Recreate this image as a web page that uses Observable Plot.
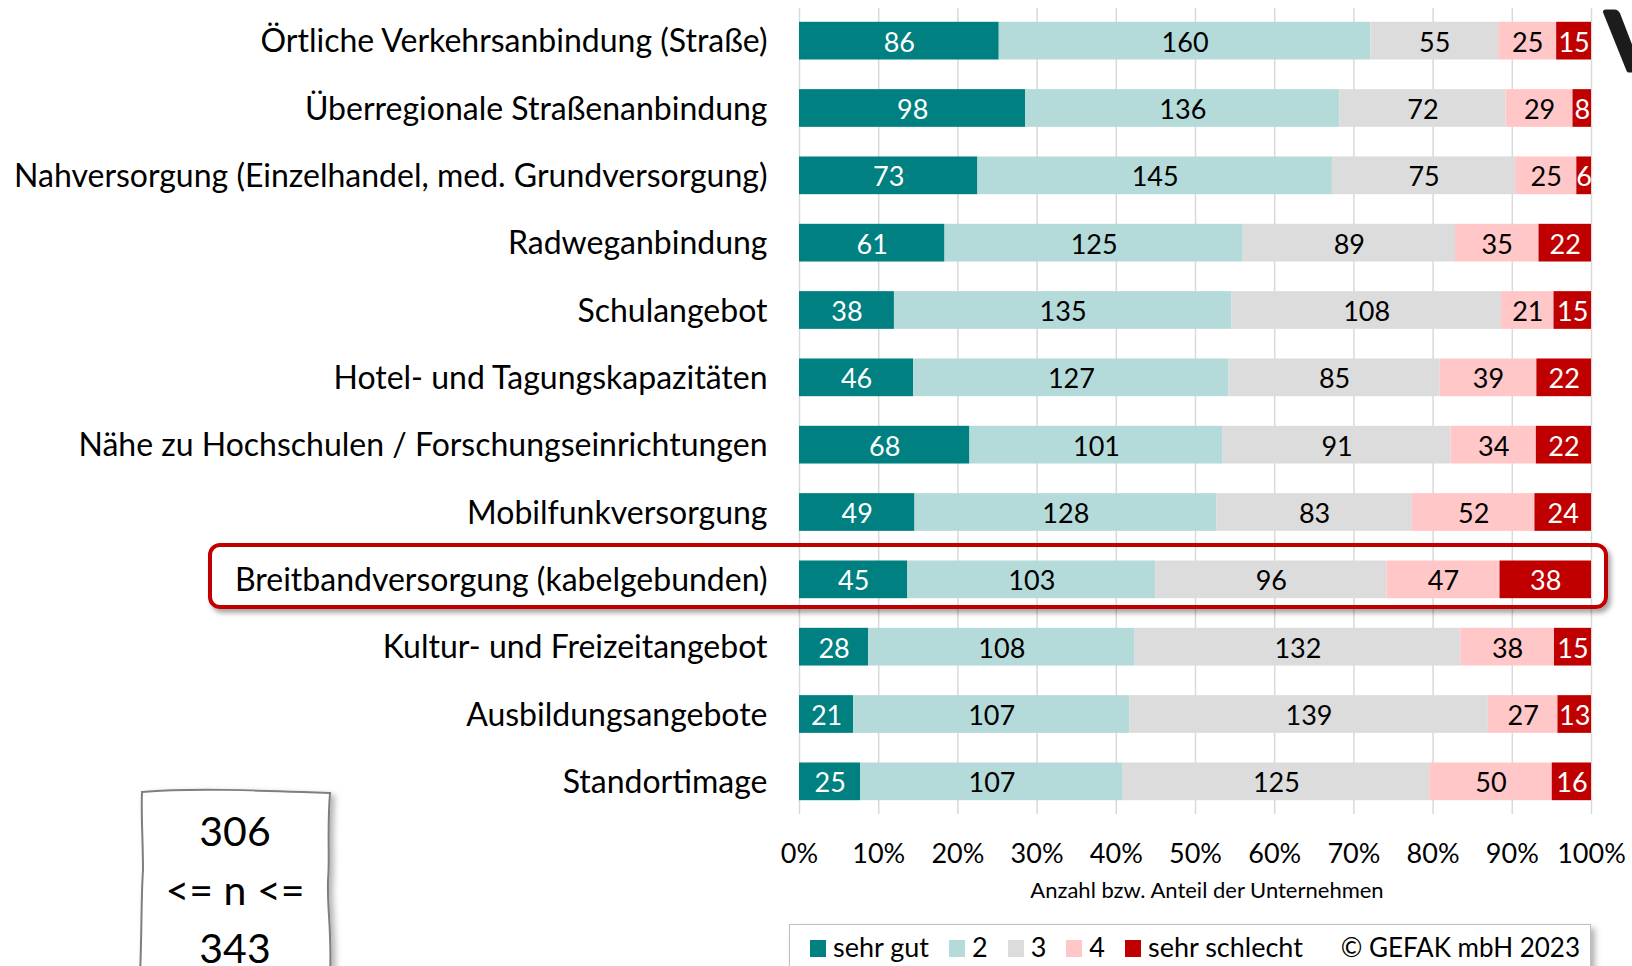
<!DOCTYPE html>
<html>
<head>
<meta charset="utf-8">
<script src="https://cdn.jsdelivr.net/npm/d3@7"></script>
<script src="https://cdn.jsdelivr.net/npm/@observablehq/plot@0.6"></script>
<style>
  html, body { margin: 0; padding: 0; background: #fff; overflow: hidden; }
  #wrap { position: relative; width: 1632px; height: 966px; overflow: hidden; font-family: Lato, "Open Sans", sans-serif; }
  #chart { position: absolute; left: 0; top: 0; }
  .abs { position: absolute; }
  #axisTitle { font-size: 22px; color: #000; white-space: nowrap; transform: translateX(-50%); }
  #legend { box-sizing: border-box; border: 1px solid #bfbfbf; background: #fff;
            box-shadow: 4px 4px 6px rgba(0,0,0,0.3); display: flex; align-items: baseline;
            font-size: 27px; line-height: 30px; padding: 7px 10px 0 20px; white-space: nowrap; }
  #legend .item { display: inline-flex; align-items: baseline; margin-right: 20px; }
  #legend .sw { display: inline-block; width: 16px; height: 17px; margin-right: 7px; }
  #legend .copy { margin-left: auto; font-size: 26px; }
  #hl { box-sizing: border-box; border: 4px solid #c00000; border-radius: 12px;
        box-shadow: 3px 4px 5px rgba(0,0,0,0.35); pointer-events: none; }
</style>
</head>
<body>
<div id="wrap">
  <div id="chart"></div>
</div>
<script>
const categories = [
  "Örtliche Verkehrsanbindung (Straße)",
  "Überregionale Straßenanbindung",
  "Nahversorgung (Einzelhandel, med. Grundversorgung)",
  "Radweganbindung",
  "Schulangebot",
  "Hotel- und Tagungskapazitäten",
  "Nähe zu Hochschulen / Forschungseinrichtungen",
  "Mobilfunkversorgung",
  "Breitbandversorgung (kabelgebunden)",
  "Kultur- und Freizeitangebot",
  "Ausbildungsangebote",
  "Standortimage"
];
const ratings = ["sehr gut", "2", "3", "4", "sehr schlecht"];
const ratingColors = ["#008080", "#b4dbd9", "#dcdcdc", "#ffc7c7", "#c00000"];
const darkRatings = ["sehr gut", "sehr schlecht"];

const sehrGut      = [86, 98, 73, 61, 38, 46, 68, 49, 45, 28, 21, 25];
const note2        = [160, 136, 145, 125, 135, 127, 101, 128, 103, 108, 107, 107];
const note3        = [55, 72, 75, 89, 108, 85, 91, 83, 96, 132, 139, 125];
const note4        = [25, 29, 25, 35, 21, 39, 34, 52, 47, 38, 27, 50];
const sehrSchlecht = [15, 8, 6, 22, 15, 22, 22, 24, 38, 15, 13, 16];

const xTicks = [0, 0.1, 0.2, 0.3, 0.4, 0.5, 0.6, 0.7, 0.8, 0.9, 1];
const highlighted = "Breitbandversorgung (kabelgebunden)";
const axisTitle = "Anzahl bzw. Anteil der Unternehmen";
const copyright = "© GEFAK mbH 2023";
const nBoxLines = ["306", "<= n <=", "343"];

const series = [sehrGut, note2, note3, note4, sehrSchlecht];
const data = [];
categories.forEach((cat, i) => {
  ratings.forEach((r, j) => {
    data.push({cat, rating: r, value: series[j][i]});
  });
});

const chart = Plot.plot({
  width: 1632,
  height: 870,
  marginLeft: 799,
  marginRight: 41,
  marginTop: 8,
  marginBottom: 56,
  style: {fontFamily: "Lato, 'Open Sans', sans-serif", color: "#000", background: "transparent"},
  x: {domain: [0, 1]},
  y: {domain: categories, paddingInner: 0.44, paddingOuter: 0.205, round: false},
  color: {domain: ratings, range: ratingColors},
  marks: [
    Plot.gridX(xTicks, {stroke: "#d9d9d9", strokeOpacity: 1, strokeWidth: 1.5}),
    Plot.barX(data, Plot.stackX({x: "value", y: "cat", fill: "rating", offset: "normalize", order: null})),
    Plot.text(data, Plot.stackX({
      x: "value", y: "cat", z: "rating", offset: "normalize", order: null,
      text: d => darkRatings.includes(d.rating) ? String(d.value) : null,
      fill: "white", fontSize: 27, dy: 2
    })),
    Plot.text(data, Plot.stackX({
      x: "value", y: "cat", z: "rating", offset: "normalize", order: null,
      text: d => darkRatings.includes(d.rating) ? null : String(d.value),
      fill: "black", fontSize: 27, dy: 2
    })),
    Plot.axisX(xTicks, {tickFormat: d3.format(".0%"), tickSize: 0, tickPadding: 29, fontSize: 27, label: null}),
    Plot.axisY({tickSize: 0, tickPadding: 32, fontSize: 32, label: null, dy: 1})
  ]
});
document.getElementById("chart").appendChild(chart);

const wrap = document.getElementById("wrap");

// highlight frame around the marked category (positioned from the y scale)
const yScale = chart.scale("y");
const yc = yScale.apply(highlighted) + yScale.bandwidth / 2;
const hl = document.createElement("div");
hl.id = "hl"; hl.className = "abs";
hl.style.left = "208px"; hl.style.width = "1400px";
hl.style.top = (yc - 36) + "px"; hl.style.height = "66px";
wrap.appendChild(hl);

// axis title
const xScale = chart.scale("x");
const at = document.createElement("div");
at.id = "axisTitle"; at.className = "abs";
at.textContent = axisTitle;
at.style.left = ((xScale.apply(0) + xScale.apply(1)) / 2 + 12) + "px";
at.style.top = "876px";
wrap.appendChild(at);

// legend
const lg = document.createElement("div");
lg.id = "legend"; lg.className = "abs";
lg.style.left = "789px"; lg.style.top = "924px"; lg.style.width = "802px"; lg.style.height = "70px";
ratings.forEach((r, j) => {
  const it = document.createElement("span"); it.className = "item";
  const sw = document.createElement("span"); sw.className = "sw"; sw.style.background = ratingColors[j];
  const tx = document.createElement("span"); tx.textContent = r;
  it.appendChild(sw); it.appendChild(tx); lg.appendChild(it);
});
const cp = document.createElement("span"); cp.className = "copy"; cp.textContent = copyright;
lg.appendChild(cp);
wrap.appendChild(lg);

// hand-drawn n box and cut-off heading glyph
const ns = "http://www.w3.org/2000/svg";
const deco = document.createElementNS(ns, "svg");
deco.setAttribute("width", 1632); deco.setAttribute("height", 966);
deco.setAttribute("class", "abs");
deco.style.left = "0px"; deco.style.top = "0px"; deco.style.pointerEvents = "none";
deco.innerHTML = `
  <defs><filter id="sh" x="-20%" y="-20%" width="150%" height="150%">
    <feDropShadow dx="4" dy="3" stdDeviation="3" flood-color="#000" flood-opacity="0.3"/></filter></defs>
  <path d="M142,792 C190,788 250,790 330,793 C327,830 330,860 328,880 C327,910 332,930 330,975 L140,975 C142,930 141,900 143,870 C143,840 141,815 142,792 Z"
        fill="#fff" stroke="#7f7f7f" stroke-width="2" filter="url(#sh)"/>
`;
const nFont = 41;
[846, 905, 963].forEach((yb, k) => {
  const t = document.createElementNS(ns, "text");
  t.setAttribute("x", 235); t.setAttribute("y", yb);
  t.setAttribute("text-anchor", "middle");
  t.setAttribute("font-family", "Lato, 'Open Sans', sans-serif");
  t.setAttribute("font-size", nFont);
  t.textContent = nBoxLines[k];
  deco.appendChild(t);
});
const v = document.createElementNS(ns, "text");
v.setAttribute("x", 1606); v.setAttribute("y", 70);
v.setAttribute("font-family", "Lato, sans-serif"); v.setAttribute("font-weight", "bold");
v.setAttribute("font-size", 80); v.setAttribute("fill", "#1c1c1c");
v.setAttribute("stroke", "#1c1c1c"); v.setAttribute("stroke-width", 5); v.setAttribute("stroke-linejoin", "round");
v.textContent = "V";
deco.appendChild(v);
wrap.appendChild(deco);
</script>
</body>
</html>
